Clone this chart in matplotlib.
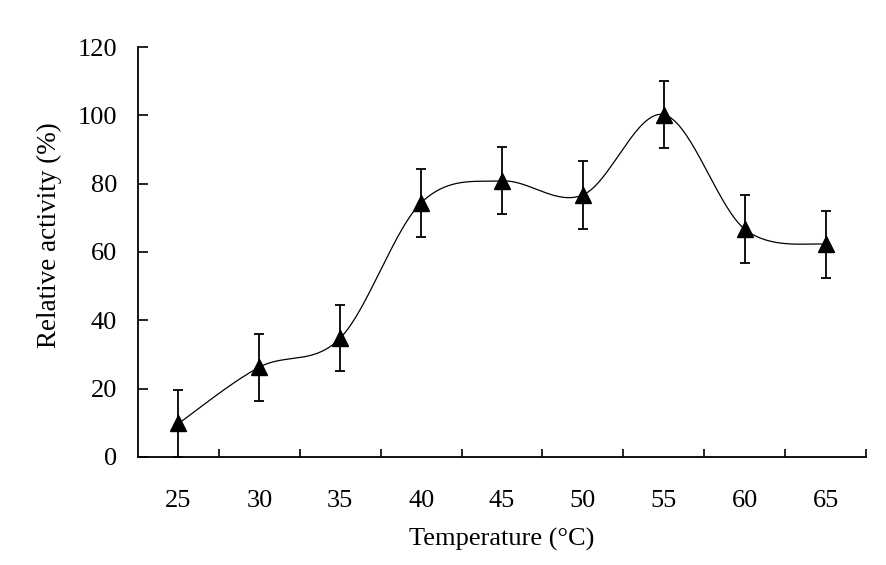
import numpy as np
import matplotlib
matplotlib.use("Agg")
import matplotlib.pyplot as plt

categories = ["25", "30", "35", "40", "45", "50", "55", "60", "65"]
activity = [9.8, 26.3, 34.8, 74.4, 80.8, 76.7, 100.2, 66.7, 62.2]
errors = [9.8, 9.8, 9.7, 9.9, 9.8, 10.0, 9.8, 10.0, 9.7]
y_ticks = [0, 20, 40, 60, 80, 100, 120]

plt.rcParams['font.family'] = ['Liberation Serif', 'DejaVu Serif']

fig = plt.figure(figsize=(8.86, 5.65), dpi=100)
ax = fig.add_axes([0.1558, 0.1912, 0.9774 - 0.1558, 0.9168 - 0.1912])

x = np.arange(1, len(categories) + 1, dtype=float)
y = np.array(activity, dtype=float)

# Excel-like smoothed line (Catmull-Rom via cubic Bezier)
px = np.concatenate([[x[0]], x, [x[-1]]])
py = np.concatenate([[y[0]], y, [y[-1]]])
sx, sy = [], []
t = np.linspace(0, 1, 60)
for i in range(1, len(px) - 2):
    p0 = np.array([px[i], py[i]])
    p3 = np.array([px[i + 1], py[i + 1]])
    c1 = p0 + (np.array([px[i + 1], py[i + 1]]) - np.array([px[i - 1], py[i - 1]])) / 6
    c2 = p3 - (np.array([px[i + 2], py[i + 2]]) - np.array([px[i], py[i]])) / 6
    b = ((1 - t) ** 3)[:, None] * p0 + (3 * (1 - t) ** 2 * t)[:, None] * c1 \
        + (3 * (1 - t) * t ** 2)[:, None] * c2 + (t ** 3)[:, None] * p3
    sx.extend(b[:, 0]); sy.extend(b[:, 1])
ax.plot(sx, sy, color='black', lw=0.9, zorder=2)

ax.errorbar(x, y, yerr=errors, fmt='none', ecolor='black', elinewidth=1.3,
            capsize=3.5, capthick=1.3, zorder=3)
ax.plot(x, y, linestyle='none', marker='^', markersize=11, color='black', zorder=4)

ax.set_xlim(0.5, len(categories) + 0.5)
ax.set_ylim(0, 120)
ax.set_yticks(y_ticks)
ax.set_xticks(x)
ax.set_xticklabels(categories)
ax.set_xticks(np.arange(1.5, len(categories) + 0.6, 1.0), minor=True)

for s in ['top', 'right']:
    ax.spines[s].set_visible(False)
for s in ['left', 'bottom']:
    ax.spines[s].set_linewidth(1.3)

ax.tick_params(axis='x', which='major', length=0, pad=24, labelsize=19)
ax.tick_params(axis='x', which='minor', direction='in', length=6, width=1.2)
ax.tick_params(axis='y', direction='in', length=7, width=1.2, pad=15, labelsize=19)

ax.set_xlabel("Temperature (°C)", fontsize=19, labelpad=11)
ax.set_ylabel("Relative activity (%)", fontsize=19.5)
ax.yaxis.set_label_coords(-0.104, 0.54)

fig.savefig("out.png", dpi=100)
